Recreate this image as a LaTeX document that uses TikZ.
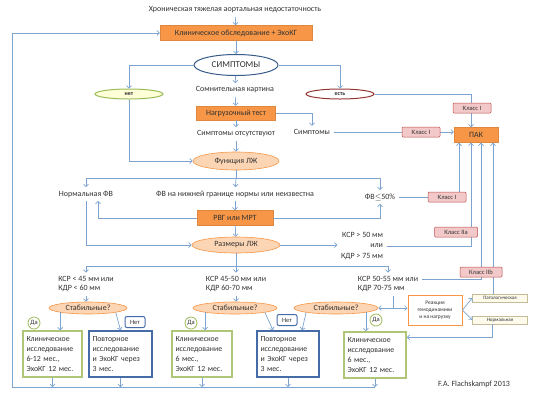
\documentclass[tikz,border=0pt]{standalone}
\usepackage{fontspec}
\setmainfont{Carlito}
\usepackage{tikz}
\usetikzlibrary{shapes.geometric,arrows.meta}
\definecolor{flowblue}{RGB}{125,163,208}
\definecolor{txtgray}{RGB}{50,50,50}
\definecolor{boxorange}{RGB}{247,150,70}
\definecolor{peachfill}{RGB}{252,213,180}
\definecolor{symblue}{RGB}{56,93,138}
\definecolor{netgreen}{RGB}{155,187,89}
\definecolor{netfill}{RGB}{255,255,215}
\definecolor{estred}{RGB}{149,55,53}
\definecolor{klasspink}{RGB}{242,200,200}
\definecolor{klassred}{RGB}{192,80,77}
\definecolor{framegreen}{RGB}{175,198,120}
\definecolor{frameblue}{RGB}{70,108,168}
\definecolor{tagline}{RGB}{196,189,151}
\definecolor{tagfill}{RGB}{253,250,235}

\begin{document}
\begin{tikzpicture}[x=1pt,y=-1pt,
    every node/.style={font=\fontsize{8}{9.5}\selectfont,text=txtgray},
    flow/.style={draw=flowblue,line width=0.7pt,-{Straight Barb[length=2.5pt,width=5pt]}},
    line/.style={draw=flowblue,line width=0.7pt},
    orangebox/.style={rectangle,fill=boxorange,draw=boxorange!90!black,minimum height=15pt,inner sep=1pt},
    peach/.style={ellipse,fill=peachfill,draw=boxorange,line width=0.6pt,inner sep=0pt},
    answer/.style={ellipse,fill=white,line width=1pt,minimum width=68pt,minimum height=10pt,inner sep=0pt,font=\bfseries\fontsize{6}{7}\selectfont},
    klass/.style={rectangle,rounded corners=1pt,fill=klasspink,draw=klassred,line width=0.5pt,minimum width=38pt,minimum height=10pt,inner sep=0pt,font=\fontsize{6.5}{7}\selectfont},
    yesmark/.style={circle,draw=netgreen,fill=white,line width=0.8pt,inner sep=0.5pt,minimum size=12pt,font=\fontsize{6.5}{7}\selectfont},
    nomark/.style={rectangle,rounded corners=2pt,draw=frameblue,fill=white,line width=1pt,minimum width=20pt,minimum height=11pt,inner sep=0pt,font=\fontsize{6.5}{7}\selectfont},
    visit/.style={rectangle,fill=white,line width=1.4pt,minimum height=46pt,inner xsep=3.5pt,align=left,font=\fontsize{7.8}{10}\selectfont},
    tag/.style={rectangle,draw=tagline,fill=tagfill,line width=0.5pt,minimum width=55pt,minimum height=8pt,inner sep=0pt,font=\fontsize{5}{6}\selectfont}]
            \useasboundingbox (0,0) rectangle (548,400);

            \node (title) at (235,10) {Хроническая тяжелая аортальная недостаточность};
            \node[orangebox,minimum width=152pt] (exam) at (236,33) {Клиническое обследование + ЭхоКГ};
            \node[ellipse,draw=symblue,line width=1pt,fill=white,minimum width=84pt,minimum height=21pt,inner sep=0pt,font=\fontsize{9}{10}\selectfont] (sympt) at (236,65) {СИМПТОМЫ};
            \node[answer,draw=netgreen,fill=netfill] (no) at (129,94) {нет};
            \node[answer,draw=estred] (yes) at (340,94) {есть};
            \node (doubt) at (235,90) {Сомнительная картина};
            \node[orangebox,minimum width=79pt,minimum height=14pt] (stress) at (236,113) {Нагрузочный тест};
            \node (sympt2) at (312,132) {Симптомы};
            \node (nosympt) at (236,134) {Симптомы отсутствуют};
            \node[peach,minimum width=86pt,minimum height=18pt] (lvf) at (236,161) {Функция ЛЖ};
            \node[orangebox,minimum width=44pt] (pak) at (476,135) {ПАК};
            \node (normef) at (86,194) {Нормальная ФВ};
            \node (lowef) at (235,194) {ФВ на нижней границе нормы или неизвестна};
            \node (redef) at (380,197) {ФВ$\leq$50\%};
            \node[orangebox,minimum width=76pt] (imaging) at (235,218) {РВГ или МРТ};
            \node[peach,minimum width=88pt,minimum height=16pt] (lvsize) at (236,245) {Размеры ЛЖ};
            \node[align=right,font=\fontsize{8}{10.5}\selectfont] (big) at (362,246) {КСР > 50 мм\\или\\КДР > 75 мм};
            \node[align=left] (s1) at (86,284) {КСР < 45 мм или\\КДР < 60 мм};
            \node[align=left] (s2) at (236,284) {КСР 45-50 мм или\\КДР 60-70 мм};
            \node[align=left] (s3) at (388,284) {КСР 50-55 мм или\\КДР 70-75 мм};
            \node[peach,minimum width=78pt,minimum height=12pt] (st1) at (88,308) {Стабильные?};
            \node[peach,minimum width=84pt,minimum height=12pt] (st2) at (235,308) {Стабильные?};
            \node[peach,minimum width=84pt,minimum height=12pt] (st3) at (336,308) {Стабильные?};
            \node[rectangle,draw=boxorange,line width=1pt,fill=white,minimum width=54pt,minimum height=30pt,align=center,font=\fontsize{5.5}{7}\selectfont] (reac) at (435,310) {Реакция\\гемодинамики\\и на нагрузку};
            \node[tag] (patho) at (500,298) {Патологическая};
            \node[tag] (normal) at (500,320) {Нормальная};
            \node[visit,draw=framegreen,text width=52pt] (b1) at (52.5,354) {Клиническое\\исследование\\6-12 мес.,\\ЭхоКГ 12 мес.};
            \node[visit,draw=frameblue,text width=56pt] (b2) at (120.5,354) {Повторное\\исследование\\и ЭхоКГ через\\3 мес.};
            \node[visit,draw=framegreen,text width=53pt] (b3) at (202,354) {Клиническое\\исследование\\6 мес.,\\ЭхоКГ 12 мес.};
            \node[visit,draw=frameblue,text width=55pt] (b4) at (288,354) {Повторное\\исследование\\и ЭхоКГ через\\3 мес.};
            \node[visit,draw=framegreen,text width=55pt] (b5) at (375,355) {Клиническое\\исследование\\6 мес.,\\ЭхоКГ 12 мес.};
            \node (author) at (474,384) {F.A. Flachskampf 2013};

            \coordinate (efsplit) at (236,178);
            \coordinate (sizesplit) at (236,266);
            \coordinate (fork) at (393,308);
            \coordinate (loopc) at (12,387);
            \coordinate (in1) at ([xshift=-17pt]pak.south);
            \coordinate (in2) at ([xshift=-5pt]pak.south);
            \coordinate (in3) at ([xshift=5pt]pak.south);
            \coordinate (in4) at ([xshift=17pt]pak.south);

            \draw[flow] (title) -- (exam);
            \draw[flow] (exam) -- (sympt);
            \draw[flow] (sympt.west) -| (no.north);
            \draw[flow] (sympt.east) -| (yes.north);
            \draw[flow] (sympt) -- (doubt);
            \draw[flow] (doubt) -- (stress);
            \draw[flow] (stress.east) -| (sympt2.north);
            \draw[flow] (stress) -- (nosympt);
            \draw[flow] (nosympt) -- (lvf);
            \draw[flow] (no.south) |- (lvf.west);
            \draw[flow] (yes.east) -| ([xshift=-5pt]pak.north);
            \draw[flow] (sympt2.east) -- (sympt2.east -| pak.west);
            \draw[line] (lvf) -- (efsplit);
            \draw[flow] (efsplit) -| (normef.north);
            \draw[flow] (efsplit) -- (lowef);
            \draw[flow] (efsplit) -| (redef.north);
            \draw[flow] (lowef) -- (imaging);
            \draw[flow] (imaging.west) -| ([xshift=12pt]normef.south);
            \draw[flow] (imaging.east) -| (redef.south);
            \draw[flow] (imaging) -- (lvsize);
            \draw[flow] (normef.south) |- (lvsize.west);
            \draw[flow] (lvsize.east) -- (lvsize.east -| big.west);
            \draw[flow] (big.east) -| (in2);
            \draw[line] (lvsize) -- (sizesplit);
            \draw[flow] (sizesplit) -| (s1.north);
            \draw[flow] (sizesplit) -- (s2.north);
            \draw[flow] (sizesplit) -| (s3.north);
            \draw[flow] ([yshift=4.5pt]s3.east) -| (in3);
            \draw[flow] (redef.east) -| (in1);
            \draw[flow] (patho.north -| in4) -- (in4);
            \draw[flow] (s1.south) -- (s1.south |- st1.north);
            \draw[flow] (s2.south) -- (s2.south |- st2.north);
            \draw[line] (s3.south -| fork) -- (fork);
            \draw[flow] (fork) -- (st3.east);
            \draw[flow] (fork) -- (fork -| reac.west);
            \draw[flow] (reac.east) -- (patho.west);
            \draw[flow] (reac.east) -- (normal.west);
            \draw[flow] ([xshift=-8pt]normal.south) |- ([yshift=-6pt]b5.north east);
            \draw[flow] (st1.south west) -- (st1.south west |- b1.north);
            \draw[flow] (st1.south east) -- (b2.north);
            \draw[flow] (st2.south west) -- (st2.south west |- b3.north);
            \draw[flow] (st2.south east) -- ([xshift=-15pt]b4.north);
            \draw[flow] (st3.south west) -- ([xshift=14pt]b4.north);
            \draw[flow] (st3.south east) -- (st3.south east |- b5.north);
            \foreach \b in {b1,b2,b3,b4,b5}
                \draw[flow] (\b.south) -- (\b.south |- loopc);
            \draw[flow] (b5.south |- loopc) -- (loopc) |- (exam.west);

            \node[yesmark] (da1) at (34,323) {Да};
            \node[yesmark] (da2) at (191,323) {Да};
            \node[yesmark] (da3) at (376,320) {Да};
            \node[nomark] (net1) at (135,322) {Нет};
            \node[nomark] (net2) at (287,320) {Нет};

            \node[klass] (k1) at (472,108) {Класс I};
            \node[klass] (k2) at (421,132) {Класс I};
            \node[klass] (k3) at (447,197) {Класс I};
            \node[klass,minimum width=43pt] (k4) at (456,232) {Класс IIa};
            \node[klass,minimum width=42pt] (k5) at (481,272) {Класс IIb};
\end{tikzpicture}
\end{document}
